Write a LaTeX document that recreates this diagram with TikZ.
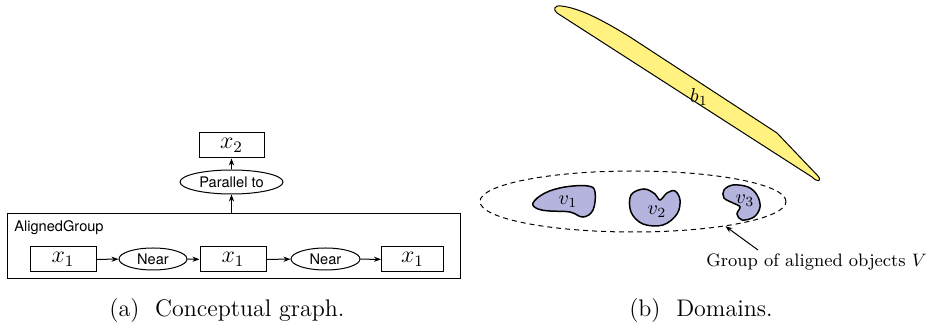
\documentclass[tikz,border=0pt]{standalone}
\usepackage{fontspec}
\newfontfamily\hv{TeX Gyre Heros}
\usetikzlibrary{shapes.geometric,arrows.meta}
\definecolor{blobfill}{RGB}{180,180,222}
\definecolor{bandfill}{RGB}{255,242,128}
\begin{document}
\begin{tikzpicture}[x=0.5pt,y=-0.5pt,
  varbox/.style={draw, line width=0.5pt, minimum height=12.5pt, inner sep=0pt, font=\fontsize{12}{14}\selectfont},
  rel/.style={draw, ellipse, line width=0.5pt, inner sep=0pt, minimum height=11pt, font=\hv\fontsize{7.3}{9}\selectfont},
  arr/.style={-{Stealth[length=3.5pt,width=2.6pt]}, line width=0.5pt},
  blob/.style={draw, fill=blobfill, line width=0.75pt},
  mlabel/.style={font=\fontsize{10}{12}\selectfont, inner sep=0pt},
  caption/.style={font=\fontsize{12}{14}\selectfont, anchor=base, inner sep=0pt}]
\useasboundingbox (0,0) rectangle (933,325);

% ---- (a) conceptual graph
\node[varbox, minimum width=32.5pt] (xtwo) at (231.5,145.5) {$x_2$};
\node[rel, minimum width=51.5pt, minimum height=12pt] (par) at (231.5,182) {Parallel to};
\node[draw, line width=0.5pt, minimum width=226.5pt, minimum height=32.5pt, inner sep=0pt] (grp) at (233.5,246.5) {};
\node[anchor=base west, inner sep=0pt, font=\hv\fontsize{7.3}{9}\selectfont] (grplabel) at (14,232) {AlignedGroup};
\node[varbox, minimum width=33pt] (xa) at (63,259.5) {$x_1$};
\node[rel, minimum width=34pt] (neara) at (153,259) {Near};
\node[varbox, minimum width=33pt] (xb) at (233,259.5) {$x_1$};
\node[rel, minimum width=34.5pt] (nearb) at (325.5,259) {Near};
\node[varbox, minimum width=31pt] (xc) at (412.5,259.5) {$x_1$};
\draw[arr] (xa) -- (neara);
\draw[arr] (neara) -- (xb);
\draw[arr] (xb) -- (nearb);
\draw[arr] (nearb) -- (xc);
\draw[arr] (par.south |- grp.north) -- (par.south);
\draw[arr] (par) -- (xtwo);

\node[caption] (capa) at (227,317) {(a)\ \ Conceptual graph.};

% ---- (b) domains
\draw[fill=bandfill, line width=0.5pt]
  (557,13) .. controls (553,10) and (554,5) .. (561,6)
  .. controls (580,8) and (604,21) .. (630,37)
  -- (777,133) -- (818,176)
  .. controls (822,181) and (818,183) .. (812,177) -- cycle;
\node[mlabel] (b1) at (699,97) {$b_1$};

\node[draw, ellipse, dashed, dash pattern=on 2.5pt off 2pt, line width=0.5pt, minimum width=153pt, minimum height=30.5pt, inner sep=0pt] (grpV) at (633,201.5) {};

\draw[blob] plot[smooth cycle, tension=0.65] coordinates {(533,203) (545,193) (565,187) (588,186) (595,192) (593,210) (583,217) (570,212) (550,211) (538,209)};
\node[mlabel] (v1) at (568,202) {$v_1$};

\draw[blob] plot[smooth cycle, tension=0.6] coordinates {(631,195) (644,189) (655,194) (660,200) (667,193) (675,191) (680,200) (677,214) (663,225) (643,224) (631,212)};
\node[mlabel] (v2) at (657,212) {$v_2$};

\draw[blob] plot[smooth cycle, tension=0.6] coordinates {(724,198) (724,190) (733,185) (748,187) (757,195) (760,207) (754,217) (742,220) (737,214) (740,207) (733,203)};
\node[mlabel] (v3) at (745,201) {$v_3$};

\coordinate (tail) at (758,250);
\draw[arr] (tail) -- (grpV.-15);
\node[anchor=base west, inner sep=0pt, font=\fontsize{9}{11}\selectfont] (glabel) at (706,267) {Group of aligned objects $V$};

\node[caption] (capb) at (701,317) {(b)\ \ Domains.};
\end{tikzpicture}
\end{document}
